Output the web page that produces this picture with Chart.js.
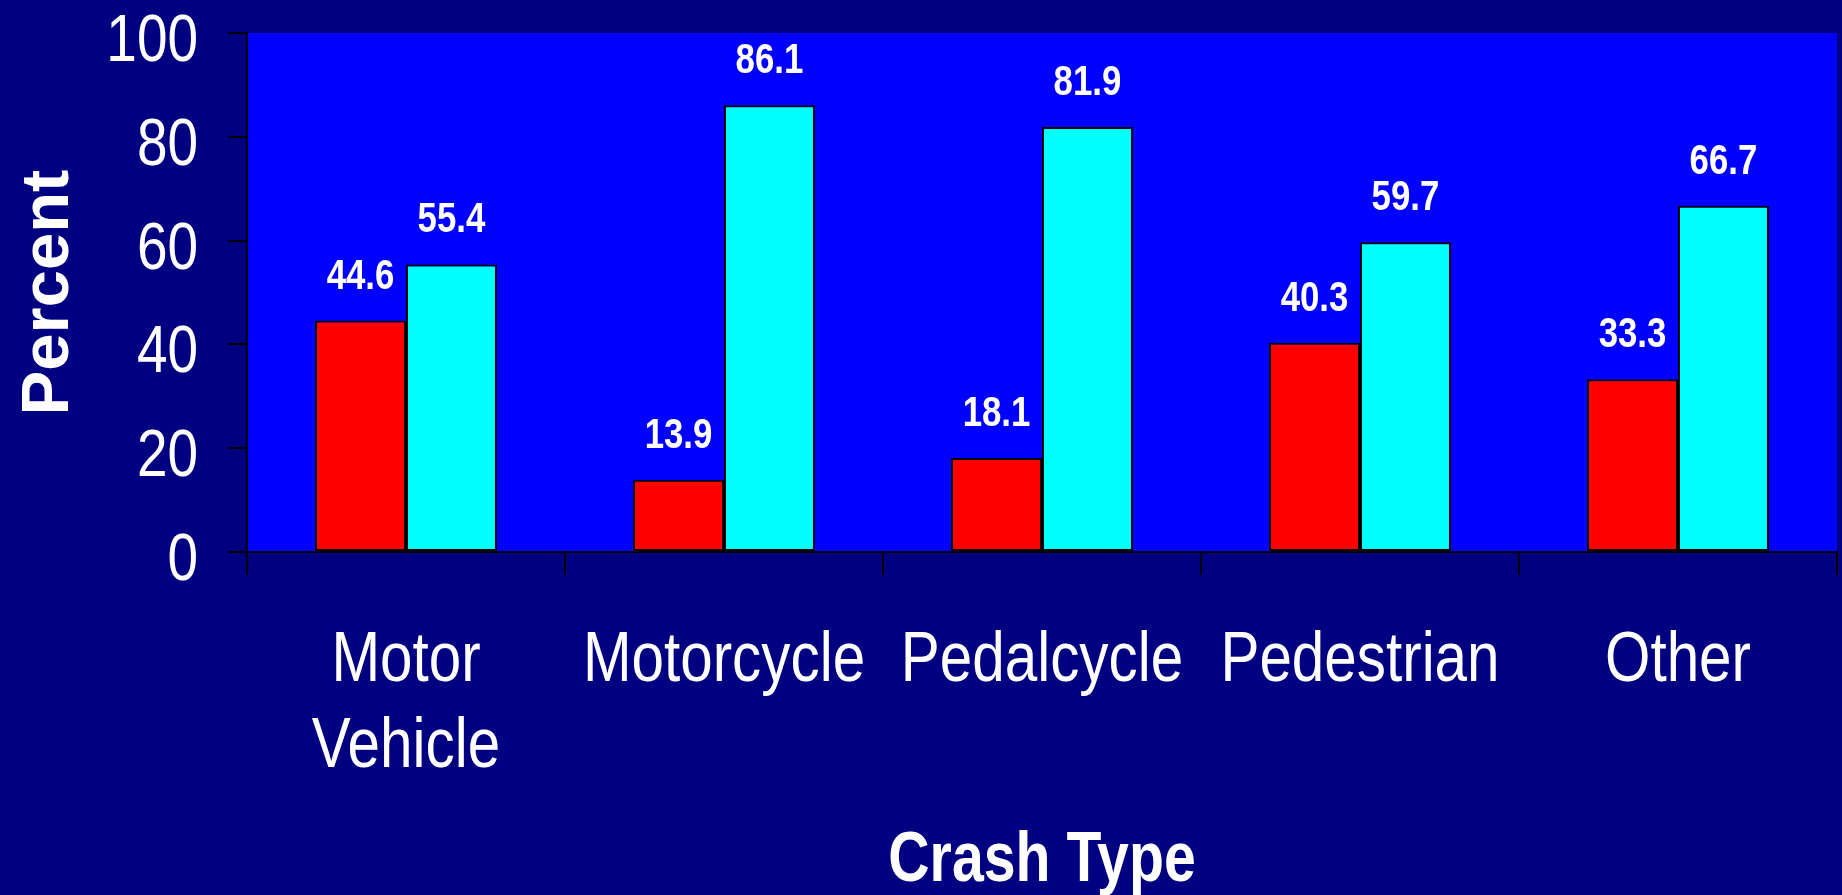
<!DOCTYPE html>
<html>
<head>
<meta charset="utf-8">
<script src="https://cdn.jsdelivr.net/npm/chart.js@4.4.1/dist/chart.umd.min.js"></script>
<style>
  html, body { margin: 0; padding: 0; background: #000080; }
  #wrap { width: 1842px; height: 895px; }
</style>
</head>
<body>
<div id="wrap"><canvas id="crashChart"></canvas></div>
<script>
const categories = [['Motor', 'Vehicle'], 'Motorcycle', 'Pedalcycle', 'Pedestrian', 'Other'];
const redValues = [44.6, 13.9, 18.1, 40.3, 33.3];
const cyanValues = [55.4, 86.1, 81.9, 59.7, 66.7];
const yTicks = [0, 20, 40, 60, 80, 100];
const xTitle = 'Crash Type';
const yTitle = 'Percent';

const sans = "'Liberation Sans', Arial, sans-serif";

// no narrow face installed, so squeeze the text with fillText's maxWidth
function narrowText(ctx, text, x, y, factor) {
    const w = ctx.measureText(text).width;
    ctx.fillText(text, x, y, w * factor);
}

// blue plot area behind the bars
const plotBackground = {
    id: 'plotBackground',
    beforeDraw(chart) {
        const {ctx, chartArea} = chart;
        ctx.save();
        ctx.fillStyle = '#0000FF';
        ctx.fillRect(chartArea.left, chartArea.top, chartArea.right - chartArea.left, chartArea.bottom - chartArea.top);
        ctx.restore();
    }
};

// value labels above each bar
const valueLabels = {
    id: 'valueLabels',
    afterDatasetsDraw(chart) {
        const ctx = chart.ctx;
        ctx.save();
        ctx.fillStyle = '#FFFFFF';
        ctx.font = 'bold 43px ' + sans;
        ctx.textAlign = 'center';
        ctx.textBaseline = 'alphabetic';
        chart.data.datasets.forEach((ds, i) => {
            chart.getDatasetMeta(i).data.forEach((bar, j) => {
                narrowText(ctx, ds.data[j].toFixed(1), bar.x, bar.y - 32, 0.81);
            });
        });
        ctx.restore();
    }
};

// tick labels and x title in a narrow look, placed from the chart's scales
const axisText = {
    id: 'axisText',
    afterDraw(chart) {
        const ctx = chart.ctx;
        const xs = chart.scales.x;
        const ys = chart.scales.y;
        ctx.save();
        ctx.fillStyle = '#FFFFFF';
        ctx.textBaseline = 'alphabetic';

        ctx.font = '67px ' + sans;
        ctx.textAlign = 'right';
        yTicks.forEach(v => {
            narrowText(ctx, String(v), ys.right - 49, ys.getPixelForValue(v) + 28, 0.82);
        });

        ctx.font = '70px ' + sans;
        ctx.textAlign = 'center';
        categories.forEach((cat, i) => {
            const lines = Array.isArray(cat) ? cat : [cat];
            const x = xs.getPixelForValue(i);
            lines.forEach((line, k) => {
                narrowText(ctx, line, x, xs.top + 129 + k * 86, 0.834);
            });
        });

        ctx.font = 'bold 71px ' + sans;
        const area = chart.chartArea;
        narrowText(ctx, xTitle, (area.left + area.right) / 2, xs.top + 329, 0.806);
        ctx.restore();
    }
};

const context = document.getElementById('crashChart').getContext('2d');
new Chart(context, {
    type: 'bar',
    data: {
        labels: categories,
        datasets: [{
            label: 'Series 1',
            data: redValues,
            backgroundColor: '#FF0000',
            borderColor: '#000000',
            borderWidth: 2,
            borderSkipped: false
        }, {
            label: 'Series 2',
            data: cyanValues,
            backgroundColor: '#00FFFF',
            borderColor: '#000000',
            borderWidth: 2,
            borderSkipped: false
        }]
    },
    options: {
        responsive: true,
        maintainAspectRatio: false,
        animation: false,
        layout: { padding: { top: 33, right: 5, left: 0, bottom: 0 } },
        datasets: { bar: { barPercentage: 1, categoryPercentage: 0.572 } },
        plugins: {
            legend: { display: false },
            tooltip: { enabled: false }
        },
        scales: {
            x: {
                offset: true,
                grid: { offset: true, drawOnChartArea: false, color: '#000000', lineWidth: 2, tickLength: 23 },
                border: { display: true, color: '#000000', width: 2 },
                ticks: { display: false },
                afterFit(scale) { scale.height = 343; }
            },
            y: {
                min: 0,
                max: 100,
                afterBuildTicks(scale) { scale.ticks = yTicks.map(v => ({ value: v })); },
                grid: { drawOnChartArea: false, color: '#000000', lineWidth: 2, tickLength: 19 },
                border: { display: true, color: '#000000', width: 2 },
                ticks: { display: false },
                title: {
                    display: true,
                    text: yTitle,
                    color: '#FFFFFF',
                    padding: { top: 16, bottom: 0 },
                    font: { family: sans, size: 67, weight: 'bold', lineHeight: 1 }
                },
                afterFit(scale) { scale.width = 247; }
            }
        }
    },
    plugins: [plotBackground, valueLabels, axisText]
});
</script>
</body>
</html>
